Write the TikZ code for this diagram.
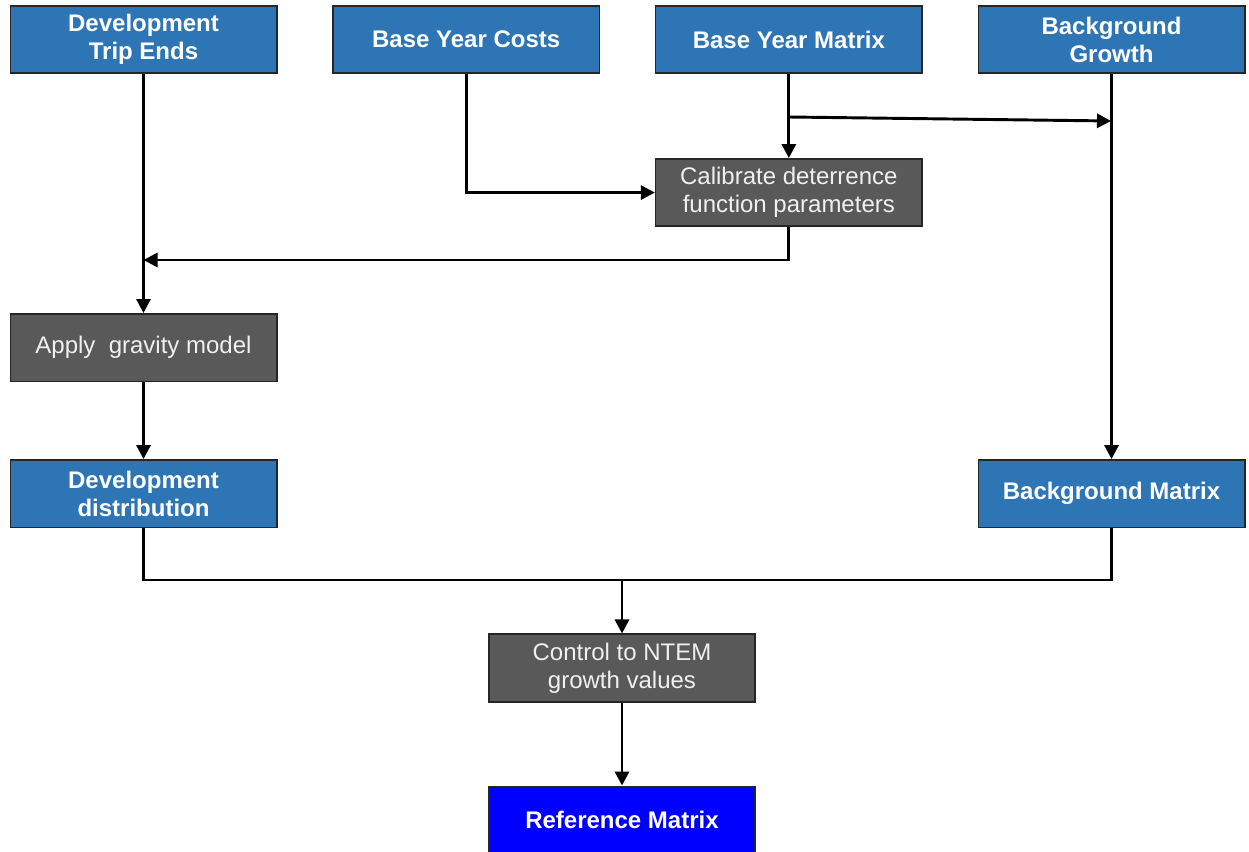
\documentclass[tikz,border=0pt]{standalone}
\usepackage{fontspec}
\setmainfont{Liberation Sans}
\usetikzlibrary{arrows.meta, positioning}
\definecolor{inblue}{RGB}{46,117,182}
\definecolor{procgrey}{RGB}{89,89,89}
\definecolor{refblue}{RGB}{0,0,255}

\begin{document}
\begin{tikzpicture}[
    x=0.75pt, y=-0.75pt,
    node distance=63pt and 41pt,
    input/.style={rectangle, draw=black!85, line width=1.2pt, fill=inblue, text=white, minimum width=199.8pt, minimum height=50.6pt, inner sep=0pt, align=center, font=\fontsize{18}{21}\selectfont\bfseries},
    process/.style={input, fill=procgrey, text=white!94!black, font=\fontsize{18}{21}\selectfont},
    arrow/.style={-{Triangle[length=10.5pt, width=10.5pt]}, line width=2.2pt},
    link/.style={line width=2.2pt}
]
    \useasboundingbox (0,0) rectangle (1249,852);

    % Inputs
    \node[input] (devends) at (143.5,39.5) {Development\\Trip Ends};
    \node[input, right=of devends] (bycosts) {Base Year Costs};
    \node[input, right=of bycosts] (bymatrix) {Base Year Matrix};
    \node[input, right=of bymatrix] (bggrowth) {Background\\Growth};

    % Processes
    \node[process, below=of bymatrix] (calib) {Calibrate deterrence\\function parameters};
    \node[process, below=179.25pt of devends] (gravity) {Apply~~gravity model};

    % Matrices
    \node[input, below=57.75pt of gravity] (devdist) {Development\\distribution};
    \node[input] (bgmatrix) at (bggrowth |- devdist) {Background Matrix};
    \node[process] (control) at (622,668) {Control to NTEM\\growth values};
    \node[input, fill=refblue, below=62.25pt of control] (refmatrix) {Reference Matrix};

    % Junctions
    \coordinate (split) at (bymatrix.south |- 0,117);
    \coordinate (bgtap) at (1111,121);
    \coordinate (feed) at (devends.south |- 0,260);
    \coordinate (merge) at (622,580);

    % Arrows
    \draw[arrow] (devends) -- (gravity);
    \draw[arrow] (bycosts) |- (calib);
    \draw[arrow] (bymatrix) -- (calib);
    \draw[arrow] (split) -- (bgtap);
    \draw[arrow] (bggrowth) -- (bgmatrix);
    \draw[arrow] (calib.south) |- (feed);
    \draw[arrow] (gravity) -- (devdist);
    \draw[link] (devdist.south) |- (merge) -| (bgmatrix.south);
    \draw[arrow] (merge) -- (control);
    \draw[arrow] (control) -- (refmatrix);
\end{tikzpicture}
\end{document}
